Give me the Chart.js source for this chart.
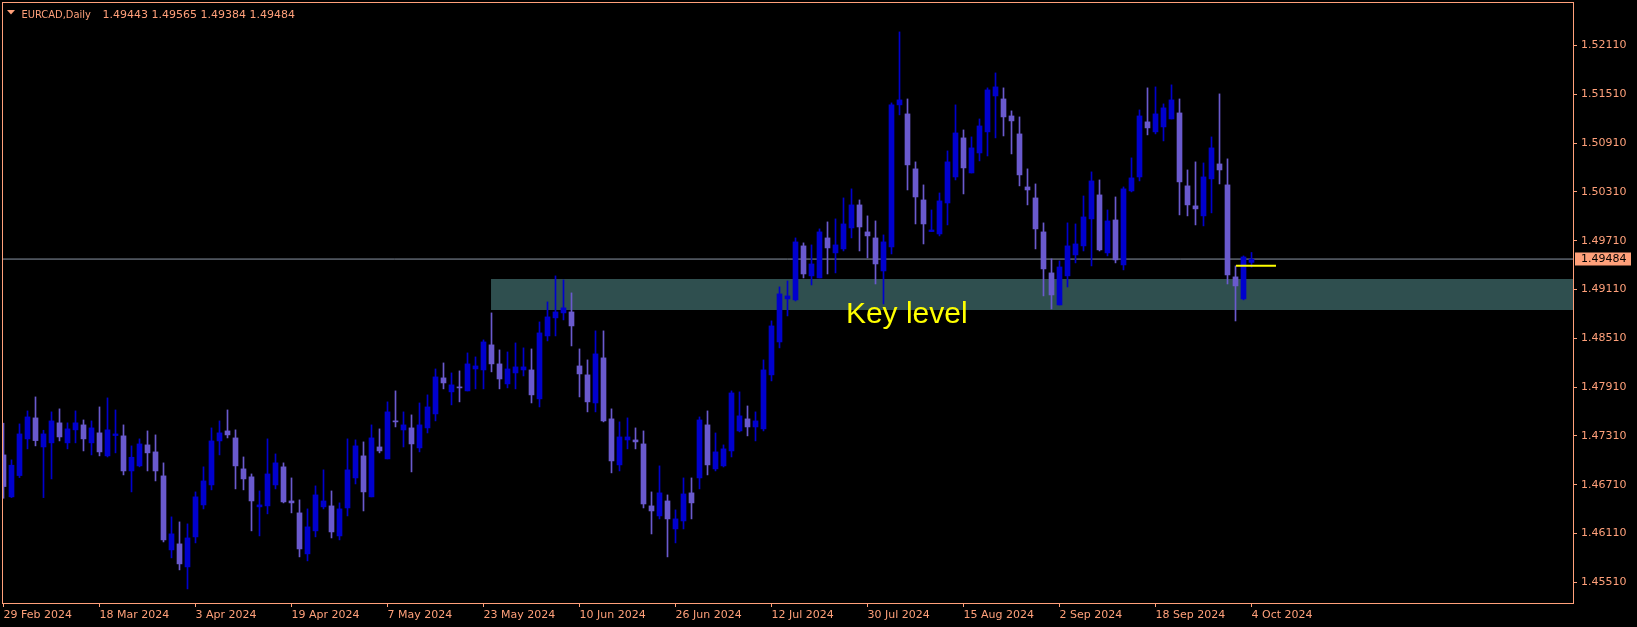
<!DOCTYPE html>
<html><head><meta charset="utf-8">
<script src="https://cdn.jsdelivr.net/npm/chart.js@4.4.1/dist/chart.umd.min.js"></script>
<style>html,body{margin:0;padding:0;background:#000;overflow:hidden}canvas{display:block}</style>
</head><body>
<canvas id="c" width="1637" height="627" style="width:1637px;height:627px"></canvas>
<script>
const symbolTitle = 'EURCAD,Daily';
const headerValues = '1.49443 1.49565 1.49384 1.49484';

const opens = [1.47076,1.46560,1.46822,1.47273,1.47531,1.47174,1.47224,1.47470,1.47224,1.47384,
1.47445,1.47224,1.47347,1.47064,1.47314,1.47310,1.46879,1.46941,1.47199,1.47113,
1.46818,1.45908,1.45982,1.45699,1.46068,1.46461,1.46707,1.47248,1.47371,1.47285,
1.46904,1.46806,1.46437,1.46449,1.46707,1.46929,1.46510,1.46363,1.45859,1.46142,
1.46437,1.46449,1.46080,1.46424,1.46793,1.47064,1.46560,1.47174,1.47027,1.47494,
1.47383,1.47408,1.47162,1.47408,1.47580,1.48023,1.47851,1.47912,1.47863,1.48133,
1.48121,1.48429,1.48195,1.47949,1.48084,1.48121,1.48121,1.47765,1.48539,1.48761,
1.48822,1.48834,1.48170,1.48060,1.47715,1.48269,1.47519,1.46953,1.47260,1.47260,
1.47211,1.46449,1.46326,1.46510,1.46166,1.46264,1.46609,1.46793,1.47445,1.46904,
1.46941,1.47125,1.47371,1.47519,1.47420,1.47396,1.48060,1.48465,1.48994,1.48982,
1.49646,1.49277,1.49252,1.49744,1.49560,1.49609,1.49867,1.50150,1.49818,1.49744,
1.49338,1.49633,1.51380,1.51269,1.50593,1.50211,1.49822,1.49793,1.50174,1.50494,
1.50974,1.50543,1.50789,1.51048,1.51490,1.51453,1.51244,1.51023,1.50371,1.50236,
1.49818,1.49314,1.48920,1.49277,1.49535,1.49646,1.49978,1.50273,1.49560,1.49965,
1.49412,1.50322,1.50494,1.51171,1.51048,1.51109,1.51207,1.51281,1.50384,1.50138,
1.50015,1.50470,1.50654,1.50396,1.49265,1.48994,1.49443];

const highs = [1.47466,1.47015,1.47457,1.47617,1.47789,1.47379,1.47605,1.47642,1.47470,1.47617,
1.47506,1.47494,1.47666,1.47777,1.47629,1.47445,1.47187,1.47273,1.47371,1.47322,
1.46978,1.46314,1.46252,1.46228,1.46621,1.46929,1.47408,1.47494,1.47629,1.47384,
1.47051,1.46842,1.46633,1.47273,1.47088,1.46978,1.46793,1.46523,1.46412,1.46695,
1.46892,1.46633,1.46486,1.47273,1.47261,1.47236,1.47445,1.47396,1.47728,1.47863,
1.47605,1.47568,1.47715,1.47814,1.48133,1.48207,1.48084,1.48109,1.48330,1.48281,
1.48490,1.48822,1.48367,1.48342,1.48453,1.48392,1.48379,1.48711,1.48957,1.49277,
1.49228,1.49068,1.48379,1.48244,1.48601,1.48601,1.47642,1.47482,1.47531,1.47408,
1.47371,1.46621,1.46941,1.46584,1.46400,1.46793,1.46793,1.47543,1.47617,1.47346,
1.47199,1.47863,1.47851,1.47678,1.47605,1.48244,1.48724,1.49142,1.49215,1.49744,
1.49683,1.49658,1.49855,1.49941,1.49978,1.50236,1.50347,1.50211,1.50015,1.49953,
1.49781,1.51404,1.52277,1.51453,1.50679,1.50396,1.50088,1.50297,1.50814,1.51380,
1.51072,1.50986,1.51207,1.51589,1.51773,1.51589,1.51306,1.51232,1.50593,1.50408,
1.49929,1.49486,1.49461,1.49929,1.49916,1.50260,1.50556,1.50457,1.50088,1.50248,
1.50371,1.50728,1.51318,1.51589,1.51601,1.51392,1.51626,1.51453,1.50580,1.50679,
1.50666,1.50986,1.51515,1.50716,1.49400,1.49523,1.49565];

const lows = [1.46543,1.46551,1.46797,1.47150,1.47187,1.46551,1.46781,1.47248,1.47150,1.47224,
1.47125,1.47076,1.47064,1.47051,1.47101,1.46830,1.46621,1.46929,1.46879,1.46756,
1.46006,1.45810,1.45662,1.45428,1.45994,1.46412,1.46646,1.47076,1.47285,1.46658,
1.46646,1.46142,1.46080,1.46351,1.46658,1.46486,1.46363,1.45822,1.45773,1.46068,
1.46412,1.46055,1.46031,1.46326,1.46719,1.46387,1.46560,1.47101,1.47027,1.47420,
1.47174,1.46867,1.47113,1.47346,1.47494,1.47888,1.47691,1.47728,1.47863,1.47888,
1.47888,1.48097,1.47888,1.47900,1.47888,1.48047,1.47715,1.47666,1.48478,1.48539,
1.48736,1.48416,1.47789,1.47605,1.47605,1.47482,1.46855,1.46879,1.47150,1.47150,
1.46424,1.46104,1.46289,1.45822,1.45994,1.46166,1.46289,1.46658,1.46830,1.46879,
1.46928,1.47051,1.47359,1.47310,1.47248,1.47371,1.47986,1.48392,1.48785,1.48969,
1.49252,1.49166,1.49252,1.49301,1.49314,1.49584,1.49744,1.49584,1.49498,1.49178,
1.48932,1.49547,1.51257,1.50334,1.49916,1.49670,1.49822,1.49769,1.49904,1.50457,
1.50285,1.50543,1.50691,1.50752,1.50974,1.50998,1.50777,1.50384,1.50150,1.49609,
1.49031,1.48871,1.48920,1.49141,1.49437,1.49584,1.49400,1.49584,1.49523,1.49437,
1.49351,1.50310,1.50445,1.51011,1.51023,1.50937,1.51207,1.50027,1.50015,1.49904,
1.49892,1.50052,1.50408,1.49178,1.48723,1.48982,1.49384];

const closes = [1.46687,1.46949,1.47334,1.47543,1.47252,1.47334,1.47494,1.47297,1.47396,1.47470,
1.47273,1.47408,1.47113,1.47384,1.47334,1.46879,1.47047,1.47211,1.47101,1.46879,
1.46031,1.46105,1.45736,1.46055,1.46560,1.46756,1.47248,1.47347,1.47322,1.46941,
1.46781,1.46510,1.46461,1.46842,1.46978,1.46498,1.46486,1.45920,1.46191,1.46584,
1.46510,1.46129,1.46412,1.46892,1.47187,1.46621,1.47285,1.47125,1.47605,1.47482,
1.47445,1.47211,1.47445,1.47666,1.48035,1.47961,1.47937,1.47900,1.48195,1.48170,
1.48465,1.48195,1.48010,1.48133,1.48158,1.48158,1.47814,1.48576,1.48773,1.48834,
1.48884,1.48662,1.48072,1.47728,1.48318,1.47494,1.47002,1.47297,1.47297,1.47236,
1.46473,1.46387,1.46609,1.46289,1.46289,1.46596,1.46486,1.47506,1.46953,1.47113,
1.47150,1.47838,1.47556,1.47420,1.47494,1.48121,1.48662,1.49056,1.49031,1.49695,
1.49301,1.49424,1.49818,1.49621,1.49658,1.49916,1.50150,1.49879,1.49769,1.49424,
1.49695,1.51380,1.51441,1.50642,1.50248,1.49916,1.49842,1.50199,1.50679,1.51035,
1.50605,1.50851,1.51121,1.51564,1.51601,1.51232,1.51183,1.50519,1.50334,1.49855,
1.49363,1.49043,1.49387,1.49646,1.49670,1.50002,1.50445,1.49597,1.49953,1.49474,
1.50347,1.50482,1.51244,1.51097,1.51269,1.51343,1.51441,1.50433,1.50150,1.50101,
1.50494,1.50851,1.50580,1.49289,1.49154,1.49510,1.49484];

const xTickLabels = ['29 Feb 2024','18 Mar 2024','3 Apr 2024','19 Apr 2024','7 May 2024','23 May 2024',
'10 Jun 2024','26 Jun 2024','12 Jul 2024','30 Jul 2024','15 Aug 2024','2 Sep 2024','18 Sep 2024','4 Oct 2024'];
const xTickStep = 12;
const yTickValues = [1.45510,1.46110,1.46710,1.47310,1.47910,1.48510,1.49110,1.49710,1.50310,1.50910,1.51510,1.52110];

const bidPrice = 1.49484;
const keyLevelTop = 1.49239;
const keyLevelBottom = 1.48858;
const keyLevelStart = 60.94;
const keyLabelText = 'Key level';
const keyLabelPos = [105.3, 1.48694];
const markerLine = [154.06, 159.06, 1.49401];

const xMin = -0.1875, xMax = 196.1875;
const yMin = 1.45255, yMax = 1.52645;

const FG = '#FFA07A';
const BULL = '#0000CD', BEAR = '#6A5ACD';

const idx = opens.map((_, i) => i);
const colors = idx.map(i => closes[i] >= opens[i] ? BULL : BEAR);
const wickData = idx.map(i => ({x: i, y: [lows[i], highs[i]]}));
const bodyData = idx.map(i => ({x: i, y: [opens[i], closes[i]]}));

function noPad(s) { s.paddingTop = 0; s.paddingBottom = 0; s.paddingLeft = 0; s.paddingRight = 0; }

const decor = {
  id: 'decor',
  beforeDraw(chart) {
    const c = chart.ctx;
    c.save(); c.fillStyle = '#000'; c.fillRect(0, 0, chart.width, chart.height); c.restore();
  },
  afterDatasetsDraw(chart) {
    const c = chart.ctx, xs = chart.scales.x, ys = chart.scales.y;
    c.save();
    c.fillStyle = '#FFFF00';
    c.font = '30px "Liberation Sans", Arial, sans-serif';
    c.textBaseline = 'alphabetic'; c.textAlign = 'left';
    c.fillText(keyLabelText, xs.getPixelForValue(keyLabelPos[0]), ys.getPixelForValue(keyLabelPos[1]));
    c.restore();
  },
  afterDraw(chart) {
    const c = chart.ctx, a = chart.chartArea, ys = chart.scales.y;
    c.save();
    c.strokeStyle = FG; c.lineWidth = 1;
    c.strokeRect(a.left + 0.5, a.top + 0.5, a.right - a.left, a.bottom - a.top);
    const py = Math.round(ys.getPixelForValue(bidPrice));
    c.fillStyle = FG;
    c.fillRect(a.right + 2, py - 6.5, 56, 13);
    c.fillStyle = '#000';
    c.font = '11px "DejaVu Sans", sans-serif';
    c.textBaseline = 'middle'; c.textAlign = 'left';
    c.fillText(bidPrice.toFixed(5), a.right + 8, py + 0.5);
    c.fillStyle = FG;
    c.beginPath(); c.moveTo(7, 10); c.lineTo(15, 10); c.lineTo(11, 14.5); c.closePath(); c.fill();
    c.textBaseline = 'alphabetic';
    c.font = '11px "DejaVu Sans Condensed", "DejaVu Sans", sans-serif';
    c.fillText(symbolTitle, 21.5, 17.5);
    c.font = '11px "DejaVu Sans", sans-serif';
    c.fillText(headerValues, 102.5, 17.5);
    c.restore();
  }
};

new Chart(document.getElementById('c'), {
  type: 'bar',
  data: {
    datasets: [
      {type: 'line', data: [{x: keyLevelStart, y: keyLevelTop}, {x: xMax, y: keyLevelTop}],
       borderColor: 'rgba(0,0,0,0)', borderWidth: 0, pointRadius: 0,
       fill: {value: keyLevelBottom}, backgroundColor: '#2F4F4F', order: 6},
      {type: 'line', data: [{x: xMin, y: bidPrice}, {x: xMax, y: bidPrice}],
       borderColor: '#8A95A5', borderWidth: 1, pointRadius: 0, fill: false, order: 5},
      {type: 'bar', data: wickData, backgroundColor: colors, borderWidth: 0,
       barThickness: 1, grouped: false, minBarLength: 1, order: 3},
      {type: 'bar', data: bodyData, backgroundColor: colors, borderWidth: 0,
       barThickness: 5, grouped: false, minBarLength: 1, order: 2},
      {type: 'line', data: [{x: markerLine[0], y: markerLine[2]}, {x: markerLine[1], y: markerLine[2]}],
       borderColor: '#FFFF00', borderWidth: 2, pointRadius: 0, fill: false, order: 1}
    ]
  },
  options: {
    responsive: false, animation: false, devicePixelRatio: 1, events: [],
    layout: {padding: {left: 2, top: 2, right: 0, bottom: 0}, autoPadding: false},
    plugins: {legend: {display: false}, tooltip: {enabled: false}},
    scales: {
      x: {
        type: 'linear', min: xMin, max: xMax, offset: false, position: 'bottom',
        afterBuildTicks(s) { s.ticks = xTickLabels.map((_, k) => ({value: k * xTickStep})); },
        afterFit(s) { s.height = 24; noPad(s); },
        grid: {drawOnChartArea: false, drawTicks: true, tickLength: 4, color: FG, offset: false},
        border: {display: false},
        ticks: {autoSkip: false, maxRotation: 0, minRotation: 0, align: 'start', padding: 2,
          color: FG, font: {family: 'DejaVu Sans', size: 11},
          callback: (v) => xTickLabels[Math.round(v / xTickStep)] || ''}
      },
      y: {
        type: 'linear', position: 'right', min: yMin, max: yMax,
        afterBuildTicks(s) { s.ticks = yTickValues.map(v => ({value: v})); },
        afterFit(s) { s.width = 64; noPad(s); },
        grid: {drawOnChartArea: false, drawTicks: true, tickLength: 4, color: FG},
        border: {display: false},
        ticks: {padding: 4, color: FG, font: {family: 'DejaVu Sans', size: 11},
          callback: (v) => Number(v).toFixed(5)}
      }
    }
  },
  plugins: [decor]
});
</script>
</body></html>
